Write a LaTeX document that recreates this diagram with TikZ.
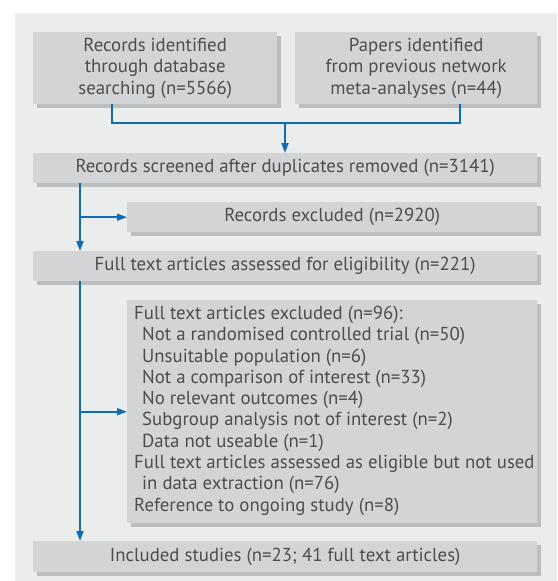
\documentclass[tikz,border=0pt]{standalone}
\usepackage{fontspec}
\setmainfont{PT Sans}
\usetikzlibrary{arrows.meta,shadows,calc}
\definecolor{panel}{HTML}{EBECEC}
\definecolor{boxfill}{HTML}{D3D4D6}
\definecolor{shadowc}{HTML}{BCBDBF}
\definecolor{txt}{HTML}{4D4D4F}
\definecolor{flow}{HTML}{0B6DB7}
\tikzset{
  boxfont/.style={text=txt, font=\fontsize{18.8}{21.3}\selectfont},
  box/.style={rectangle, fill=boxfill, anchor=north west, inner sep=0pt, boxfont,
    drop shadow={shadow xshift=3.5pt, shadow yshift=-3.5pt, fill=shadowc, opacity=1}},
  link/.style={draw=flow, line width=1.8pt},
  arr/.style={link, -{Triangle[length=10pt,width=7pt]}}
}
\begin{document}
\begin{tikzpicture}[x=1pt,y=-1pt]
\useasboundingbox (0,0) rectangle (557,581);
\fill[panel] (15,13) rectangle (557,581);
\node[box, minimum width=244pt, minimum height=72pt, align=center] (b1) at (33,32)
  {Records identified\\through database\\searching (n=5566)};
\node[box, minimum width=242pt, minimum height=72pt, align=center] (b2) at (295,32)
  {Papers identified\\from previous network\\meta-analyses (n=44)};
\node[box, minimum width=504pt, minimum height=30pt] (b3) at (33,153)
  {Records screened after duplicates removed (n=3141)};
\node[box, minimum width=410pt, minimum height=30pt] (b4) at (127,202)
  {Records excluded (n=2920)};
\node[box, minimum width=504pt, minimum height=30pt] (b5) at (33,251)
  {Full text articles assessed for eligibility (n=221)};
\node[box, minimum width=410pt, minimum height=223pt] (b6) at (127,300) {};
\node[anchor=west, inner sep=0pt, align=left, boxfont] (b6t) at ($(b6.west)+(7,-1)$)
  {Full text articles excluded (n=96):\\
   \hspace*{8pt}Not a randomised controlled trial (n=50)\\
   \hspace*{8pt}Unsuitable population (n=6)\\
   \hspace*{8pt}Not a comparison of interest (n=33)\\
   \hspace*{8pt}No relevant outcomes (n=4)\\
   \hspace*{8pt}Subgroup analysis not of interest (n=2)\\
   \hspace*{8pt}Data not useable (n=1)\\
   Full text articles assessed as eligible but not used\\
   \hspace*{8pt}in data extraction (n=76)\\
   Reference to ongoing study (n=8)};
\node[box, minimum width=504pt, minimum height=31pt] (b7) at (33,541)
  {Included studies (n=23; 41 full text articles)};
\coordinate (c1) at (112,0);
\coordinate (c2) at (460,0);
\coordinate (m) at (285,123);
\coordinate (t) at (80,0);
\draw[link] (b1.south -| c1) -- (c1 |- m) -- (c2 |- m) -- (b2.south -| c2);
\draw[arr] (m) -- (m |- b3.north);
\draw[arr] (b3.south -| t) -- (b5.north -| t);
\draw[arr] (b4.west -| t) -- (b4.west);
\draw[arr] (b5.south -| t) -- (b7.north -| t);
\draw[arr] (b6.west -| t) -- (b6.west);
\end{tikzpicture}
\end{document}
